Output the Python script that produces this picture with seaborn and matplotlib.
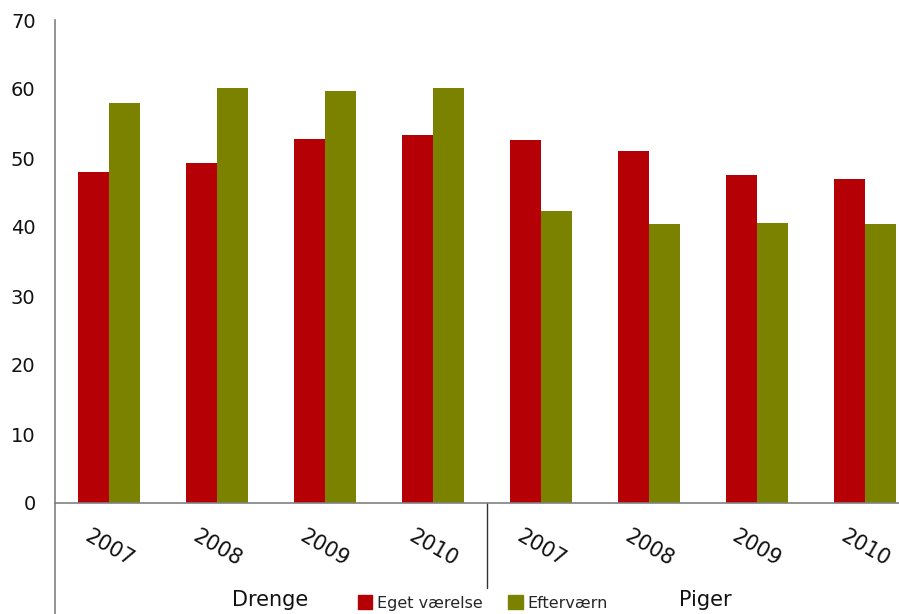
import numpy as np
import pandas as pd
import matplotlib
matplotlib.use("Agg")
import matplotlib.pyplot as plt
import seaborn as sns

# data
years = ["2007", "2008", "2009", "2010"]
groups = ["Drenge", "Piger"]
series = ["Eget værelse", "Efterværn"]
eget = [48.0, 49.3, 52.8, 53.3, 52.6, 51.0, 47.5, 46.9]
efter = [58.0, 60.1, 59.7, 60.1, 42.3, 40.4, 40.6, 40.4]
colors = ["#B50005", "#7A8200"]

cats = [f"{g} {y}" for g in groups for y in years]
df = pd.DataFrame({
    "cat": cats * 2,
    "serie": [series[0]] * len(cats) + [series[1]] * len(cats),
    "value": eget + efter,
})

sns.set_style("white")
plt.rcParams["font.family"] = ["DejaVu Sans"]

W, H = 899, 614
fig = plt.figure(figsize=(W / 100, H / 100), dpi=100)
ax_left, ax_right = 55, 919
ax_bottom, ax_top = 503, 20
ax = fig.add_axes([ax_left / W, (H - ax_bottom) / H,
                   (ax_right - ax_left) / W, (ax_bottom - ax_top) / H])

sns.barplot(data=df, x="cat", y="value", hue="serie", order=cats,
            hue_order=series, palette=colors, width=0.58, saturation=1,
            linewidth=0, ax=ax, legend=False)

ax.set_xlim(-0.5, len(cats) - 0.5)
ax.set_ylim(0, 70)
ax.set_yticks(range(0, 71, 10))
ax.tick_params(axis="y", length=0, labelsize=14, pad=14, colors="#111111")
ax.set_xticks(range(len(cats)))
ax.set_xticklabels(years * 2, rotation=-30, ha="center", fontsize=15)
ax.tick_params(axis="x", length=0, pad=17, colors="#111111")
ax.set_xlabel("")
ax.set_ylabel("")

for s in ["top", "right"]:
    ax.spines[s].set_visible(False)
for s in ["left", "bottom"]:
    ax.spines[s].set_color("#808080")
    ax.spines[s].set_linewidth(1.2)

# left spine runs down to the bottom of the figure
y_bot = -(H - ax_bottom) / (ax_bottom - ax_top)
ax.plot([0, 0], [0, y_bot], transform=ax.transAxes, color="#808080",
        lw=1.2, clip_on=False)
# separator between groups
y_sep = -(588 - ax_bottom) / (ax_bottom - ax_top)
ax.plot([0.5, 0.5], [0, y_sep], transform=ax.transAxes, color="#333333",
        lw=1, clip_on=False)

# group labels
fig.text(270 / W, 1 - 600 / H, groups[0], fontsize=15, ha="center", va="center", color="#111111")
fig.text(705 / W, 1 - 600 / H, groups[1], fontsize=15, ha="center", va="center", color="#111111")

# legend
handles = [plt.Rectangle((0, 0), 1, 1, color=c) for c in colors]
fig.legend(handles, series, loc="center", bbox_to_anchor=(483 / W, 1 - 603 / H),
           ncol=2, frameon=False, fontsize=11.5, handlelength=0.9, handleheight=0.9,
           handletextpad=0.3, columnspacing=1.6, borderpad=0)

fig.savefig("out.png", dpi=100)
